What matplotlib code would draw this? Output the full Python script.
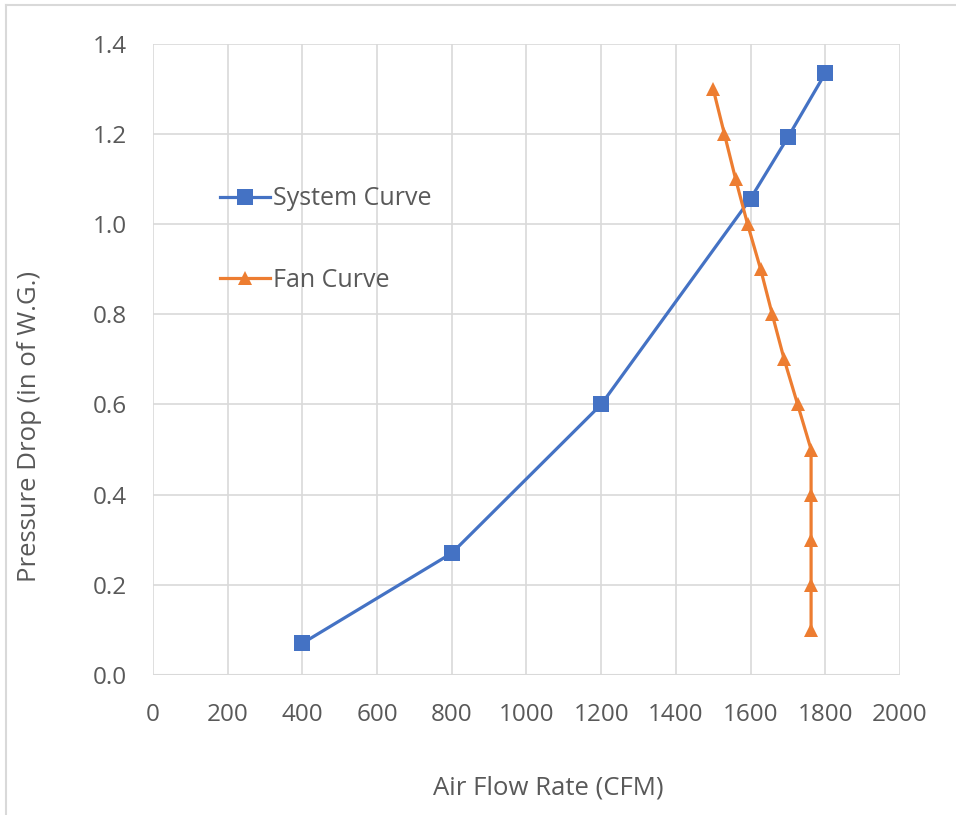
import matplotlib

matplotlib.use("Agg")
import matplotlib.pyplot as plt
from matplotlib.lines import Line2D

BLUE = "#4472C4"
ORANGE = "#ED7D31"
GRID = "#D9D9D9"
TEXT = "#595959"

system_flow = [400, 800, 1200, 1600, 1700, 1800]
system_drop = [0.07, 0.27, 0.60, 1.057, 1.193, 1.335]

fan_flow = [1500, 1530, 1560, 1592, 1627, 1658, 1690, 1726, 1762, 1762, 1762, 1762, 1762]
fan_drop = [1.3, 1.2, 1.1, 1.0, 0.9, 0.8, 0.7, 0.6, 0.5, 0.4, 0.3, 0.2, 0.1]

x_ticks = list(range(0, 2001, 200))
y_ticks = [0.0, 0.2, 0.4, 0.6, 0.8, 1.0, 1.2, 1.4]

plt.rcParams["font.family"] = ["Open Sans", "DejaVu Sans"]

fig = plt.figure(figsize=(9.56, 8.15), dpi=100)
fig.patch.set_facecolor("white")
ax = fig.add_axes([0.160, 0.172, 0.7814, 0.774])

ax.plot(system_flow, system_drop, color=BLUE, linewidth=2.3, marker="s",
        markersize=12, markeredgewidth=0, label="System Curve", zorder=3)
ax.plot(fan_flow, fan_drop, color=ORANGE, linewidth=2.3, marker="^",
        markersize=10.5, markeredgewidth=0, label="Fan Curve", zorder=3)

ax.set_xlim(0, 2000)
ax.set_ylim(0, 1.4)
ax.set_xticks(x_ticks)
ax.set_yticks(y_ticks)
ax.set_xticklabels([str(v) for v in x_ticks])
ax.set_yticklabels([f"{v:.1f}" for v in y_ticks])
ax.tick_params(axis="y", length=0, labelsize=17.5, colors=TEXT, pad=19)
ax.tick_params(axis="x", length=0, labelsize=17.5, colors=TEXT, pad=20)
ax.grid(True, color=GRID, linewidth=1.2)
ax.set_axisbelow(True)
for name, spine in ax.spines.items():
    spine.set_visible(False)
ax.axhline(0, color=GRID, linewidth=1.5, zorder=1)

ax.set_xlabel("Air Flow Rate (CFM)", color=TEXT, fontsize=18.5)
ax.set_ylabel("Pressure Drop (in of W.G.)", color=TEXT, fontsize=18.5)
ax.xaxis.set_label_coords(0.529, -0.160)
ax.yaxis.set_label_coords(-0.1486, 0.393)

handles = [
    Line2D([], [], color=BLUE, linewidth=2.3, marker="s", markersize=12, markeredgewidth=0),
    Line2D([], [], color=ORANGE, linewidth=2.3, marker="^", markersize=10.5, markeredgewidth=0),
]
ax.legend(handles, ["System Curve", "Fan Curve"], loc="upper left",
          bbox_to_anchor=(0.059, 0.810), frameon=False, fontsize=18,
          labelcolor=TEXT, labelspacing=2.25, handlelength=2.0, handletextpad=0.15)

# chart border (left and top visible)
fig.add_artist(Line2D([6 / 956, 6 / 956], [0, 1 - 5 / 815], transform=fig.transFigure,
                      color=GRID, linewidth=1.5))
fig.add_artist(Line2D([6 / 956, 1], [1 - 5 / 815, 1 - 5 / 815], transform=fig.transFigure,
                      color=GRID, linewidth=1.5))

fig.savefig("out.png", dpi=100, facecolor="white")
